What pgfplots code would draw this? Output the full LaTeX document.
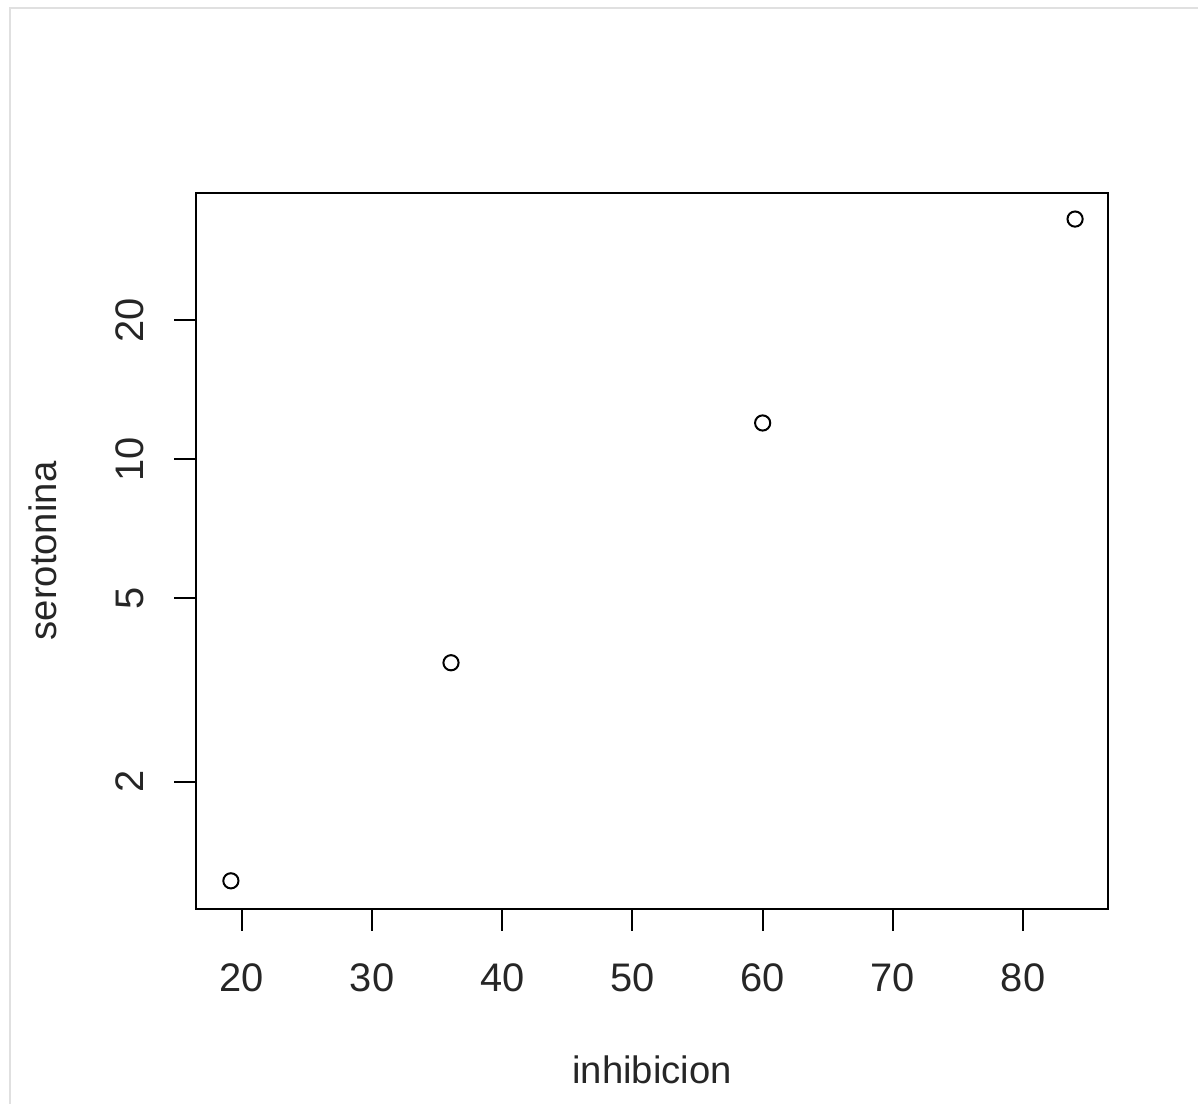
\documentclass[border=0pt]{standalone}
\usepackage{fontspec}
\setmainfont{Liberation Sans}
\usepackage{pgfplots}
\pgfplotsset{compat=1.18}
\begin{document}
\begin{tikzpicture}
% page frame: 1 px = 0.25bp, page 1198x1104 px
\path[use as bounding box] (0bp,0bp) rectangle (299.5bp,276bp);
\draw[line width=0.5bp,color=black!12] (2.5bp,0bp) -- (2.5bp,274bp) -- (299.5bp,274bp);
\begin{axis}[
  at={(49bp,48.75bp)}, anchor=south west,
  scale only axis, width=228bp, height=179bp,
  xmin=16.47, xmax=86.53,
  ymode=log, ymin=1.06, ymax=37.7,
  axis line style={line width=0.6bp},
  tick style={line width=0.5bp, color=black},
  tick align=outside, major tick length=5.5bp,
  xtick={20,30,40,50,60,70,80},
  xticklabels={20,30,40,50,60,70,80},
  ytick={2,5,10,20},
  yticklabels={2,5,10,20},
  minor tick num=0, log ticks with fixed point,
  xtick pos=left, ytick pos=left,
  /pgf/number format/assume math mode=true,
  ticklabel style={font=\fontsize{10}{12}\selectfont, color=black!85},
  xticklabel style={anchor=center, yshift=-11.75bp},
  yticklabel style={xshift=-11bp, rotate=90, anchor=center},
  xlabel={inhibicion}, ylabel={serotonina},
  label style={font=\fontsize{9.6}{12}\selectfont, color=black!85},
  xlabel style={at={(axis description cs:0.5,-0.2249)}, anchor=center},
  ylabel style={at={(axis description cs:-0.1678,0.5)}, anchor=center, rotate=0},
]
\addplot[only marks, mark=o, mark size=1.9bp, mark options={line width=0.5bp, black}]
coordinates {(19.15,1.22) (36.06,3.62) (60.0,11.97) (84.0,33.1)};
\end{axis}
\end{tikzpicture}
\end{document}
